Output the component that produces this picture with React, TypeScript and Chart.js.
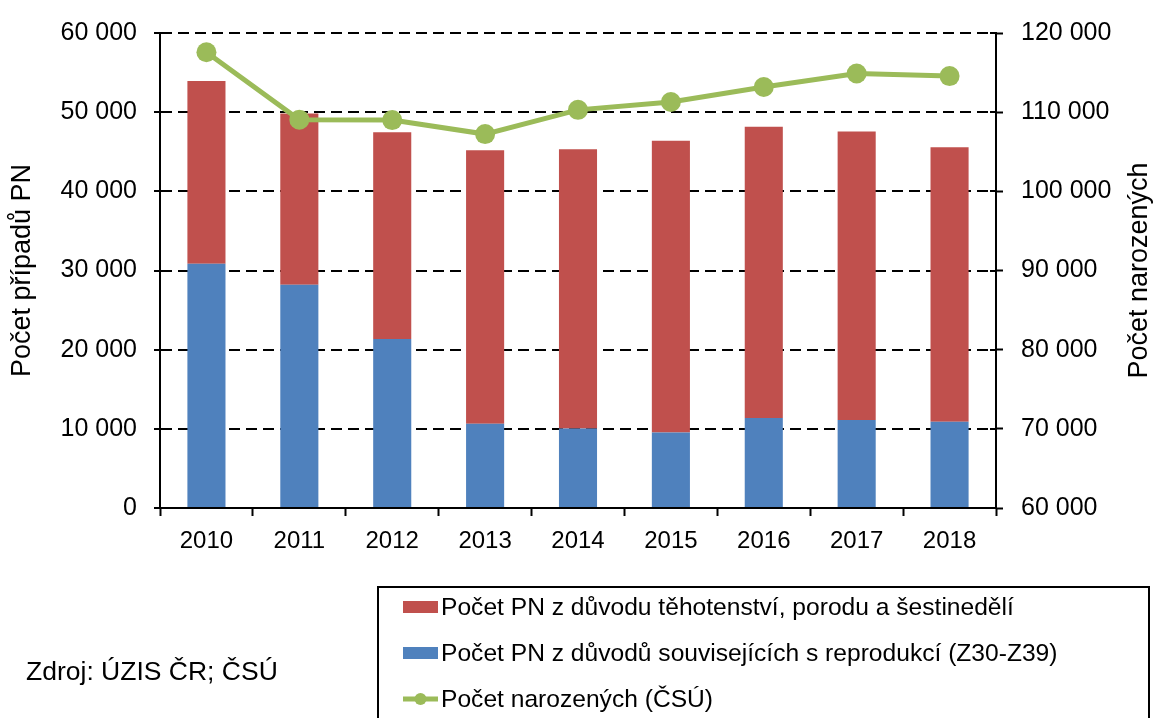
import React, { useEffect, useRef } from "react";
import { Chart, registerables } from "chart.js";

Chart.register(...registerables);

const years = ["2010", "2011", "2012", "2013", "2014", "2015", "2016", "2017", "2018"];
// PN due to pregnancy, childbirth and puerperium (red, stacked on top)
const pregnancyPN = [23100, 21630, 26110, 34560, 35270, 36860, 36780, 36440, 34680];
// PN due to reproduction-related reasons Z30-Z39 (blue, bottom)
const reproductionPN = [30840, 28200, 21340, 10630, 10040, 9540, 11380, 11130, 10880];
// Number of births (ČSÚ), right axis
const births = [117570, 109050, 109000, 107230, 110290, 111290, 113180, 114890, 114560];

const leftTicks = [0, 10000, 20000, 30000, 40000, 50000, 60000];
const rightTicks = [60000, 70000, 80000, 90000, 100000, 110000, 120000];

const labelRed = "Počet PN z důvodu těhotenství, porodu a šestinedělí";
const labelBlue = "Počet PN z důvodů souvisejících s reprodukcí (Z30-Z39)";
const labelGreen = "Počet narozených (ČSÚ)";
const leftTitle = "Počet případů PN";
const rightTitle = "Počet narozených";
const sourceText = "Zdroj: ÚZIS ČR; ČSÚ";

const RED = "#C0504D";
const BLUE = "#4F81BD";
const GREEN = "#9BBB59";
const FONT = "'Liberation Sans', Arial, sans-serif";

const fmt = (v: number) => String(v).replace(/\B(?=(\d{3})+(?!\d))/g, " ");

const extrasPlugin = {
  id: "extras",
  afterDraw(chart: any) {
    const ctx = chart.ctx as CanvasRenderingContext2D;
    const area = chart.chartArea;
    const y1 = chart.scales.y1;

    // inner half of right-axis tick marks
    ctx.save();
    ctx.strokeStyle = "#000";
    ctx.lineWidth = 2;
    rightTicks.forEach((v) => {
      const py = Math.round(y1.getPixelForValue(v));
      ctx.beginPath();
      ctx.moveTo(area.right - 6, py);
      ctx.lineTo(area.right, py);
      ctx.stroke();
    });
    ctx.restore();

    ctx.save();
    // right axis title, reading bottom-to-top
    ctx.font = `27px ${FONT}`;
    ctx.fillStyle = "#000";
    ctx.textAlign = "center";
    ctx.textBaseline = "middle";
    ctx.translate(1140, (area.top + area.bottom) / 2);
    ctx.rotate(-Math.PI / 2);
    ctx.fillText(rightTitle, 0, 0);
    ctx.restore();

    ctx.save();
    // legend box
    ctx.strokeStyle = "#000";
    ctx.lineWidth = 2;
    ctx.strokeRect(378, 587, 771, 140);
    ctx.font = `24.6px ${FONT}`;
    ctx.textAlign = "left";
    ctx.textBaseline = "middle";
    const rows = [
      { y: 607, label: labelRed, kind: "bar", color: RED },
      { y: 653, label: labelBlue, kind: "bar", color: BLUE },
      { y: 699, label: labelGreen, kind: "line", color: GREEN },
    ];
    rows.forEach((r) => {
      if (r.kind === "bar") {
        ctx.fillStyle = r.color;
        ctx.fillRect(403, r.y - 6, 35, 12);
      } else {
        ctx.strokeStyle = r.color;
        ctx.lineWidth = 5;
        ctx.beginPath();
        ctx.moveTo(403, r.y);
        ctx.lineTo(438, r.y);
        ctx.stroke();
        ctx.fillStyle = r.color;
        ctx.beginPath();
        ctx.arc(420.5, r.y, 6, 0, Math.PI * 2);
        ctx.fill();
      }
      ctx.fillStyle = "#000";
      ctx.fillText(r.label, 441, r.y + 1);
    });
    // source
    ctx.font = `26.5px ${FONT}`;
    ctx.fillStyle = "#000";
    ctx.fillText(sourceText, 26, 673);
    ctx.restore();
  },
};

export default function App() {
  const ref = useRef<HTMLCanvasElement | null>(null);

  useEffect(() => {
    if (!ref.current) return;
    const chart = new Chart(ref.current, {
      type: "bar",
      data: {
        labels: years,
        datasets: [
          {
            type: "line",
            label: labelGreen,
            data: births,
            yAxisID: "y1",
            borderColor: GREEN,
            backgroundColor: GREEN,
            borderWidth: 5,
            pointRadius: 10,
            pointBackgroundColor: GREEN,
            pointBorderWidth: 0,
            tension: 0,
            order: 0,
          } as any,
          {
            type: "bar",
            label: labelBlue,
            data: reproductionPN,
            backgroundColor: BLUE,
            yAxisID: "y",
            stack: "pn",
            order: 1,
          },
          {
            type: "bar",
            label: labelRed,
            data: pregnancyPN,
            backgroundColor: RED,
            yAxisID: "y",
            stack: "pn",
            order: 1,
          },
        ],
      },
      options: {
        responsive: false,
        animation: false,
        devicePixelRatio: 1,
        layout: { padding: { top: 27, bottom: 0, left: 0, right: 0 } },
        datasets: {
          bar: { barPercentage: 0.41, categoryPercentage: 1 },
        },
        plugins: {
          legend: { display: false },
          tooltip: { enabled: false },
        },
        scales: {
          x: {
            stacked: true,
            afterFit: (s: any) => {
              s.height = 210;
            },
            grid: {
              offset: true,
              drawOnChartArea: false,
              drawTicks: true,
              tickLength: 8,
              tickColor: "#000",
              tickWidth: 2,
            },
            border: { color: "#000", width: 2 },
            ticks: {
              color: "#000",
              font: { family: FONT, size: 24 },
              padding: 11,
            },
          },
          y: {
            position: "left",
            stacked: true,
            min: 0,
            max: 60000,
            afterFit: (s: any) => {
              s.width = 160;
            },
            afterBuildTicks: (s: any) => {
              s.ticks = leftTicks.map((v) => ({ value: v }));
            },
            grid: {
              color: "#000",
              lineWidth: 2,
              drawTicks: true,
              tickLength: 6,
              tickColor: "#000",
              tickWidth: 2,
              tickBorderDash: [],
            },
            border: { color: "#000", width: 2, dash: [11, 6] },
            ticks: {
              color: "#000",
              font: { family: FONT, size: 25 },
              padding: 17,
              callback: (v: any) => fmt(Number(v)),
            },
            title: {
              display: true,
              text: leftTitle,
              color: "#000",
              font: { family: FONT, size: 27 },
              padding: { top: 6, bottom: 0 },
            },
          },
          y1: {
            position: "right",
            stacked: false,
            min: 60000,
            max: 120000,
            afterFit: (s: any) => {
              s.width = 160;
            },
            afterBuildTicks: (s: any) => {
              s.ticks = rightTicks.map((v) => ({ value: v }));
            },
            grid: {
              drawOnChartArea: false,
              drawTicks: true,
              tickLength: 7,
              tickColor: "#000",
              tickWidth: 2,
            },
            border: { color: "#000", width: 2 },
            ticks: {
              color: "#000",
              font: { family: FONT, size: 25 },
              padding: 18,
              callback: (v: any) => fmt(Number(v)),
            },
          },
        },
      },
      plugins: [extrasPlugin],
    });
    return () => chart.destroy();
  }, []);

  return (
    <div style={{ position: "absolute", left: 0, top: 0, width: 1156, height: 718, overflow: "hidden", background: "#fff" }}>
      <canvas ref={ref} width={1156} height={718} />
    </div>
  );
}
